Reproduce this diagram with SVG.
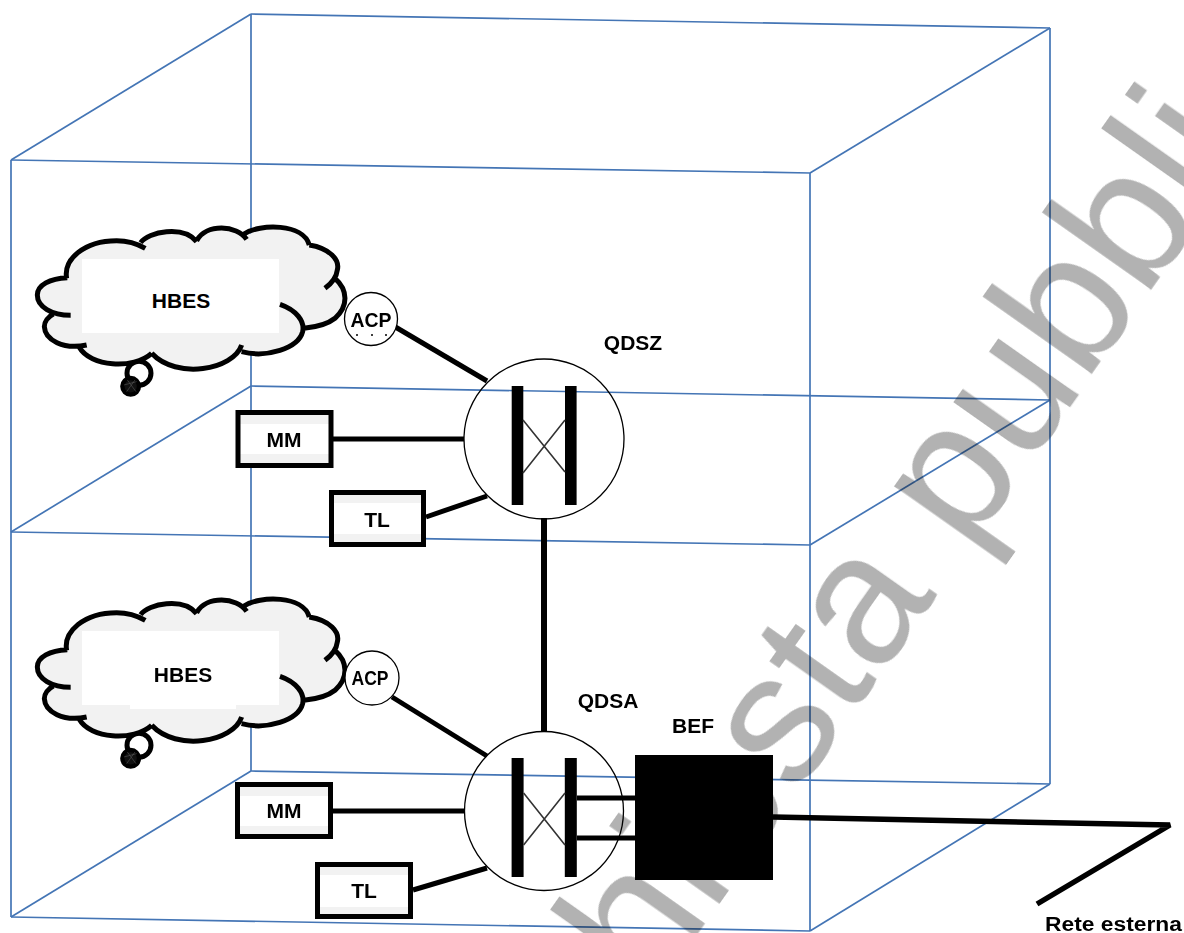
<svg xmlns="http://www.w3.org/2000/svg" width="1184" height="933" viewBox="0 0 1184 933">
<style>
text{font-family:"Liberation Sans",Arial,sans-serif;font-weight:700;fill:#000}
.c{text-anchor:middle}
.l{font-size:21px}
.cube line{stroke:#4475b5;stroke-width:1.7;fill:none}
.w{stroke:#000;stroke-width:5;fill:none}
.thin{stroke:#000;stroke-width:1.3;fill:none}
.x{stroke:#333;stroke-width:1.6;fill:none}
.band{fill:#f2f2f2}
.white{fill:#fff}
.box{fill:none;stroke:#000;stroke-width:5}
.wm{font-family:"Liberation Sans",Arial,sans-serif;font-weight:400;font-size:185px;fill:#b2b2b2;mix-blend-mode:multiply}
</style>
<defs>
<g id="cloud">
<circle cx="357" cy="490" r="36" fill="#fff" stroke="#000" stroke-width="15"/>
<circle cx="332" cy="529" r="25" fill="#111" stroke="#000" stroke-width="13"/>
<path d="M312,525 L350,515 M320,545 L345,510 M322,510 L348,545" stroke="#666" stroke-width="1.5" fill="none"/>
<path fill="#f2f2f2" d="M52,255 C52,225 90,205 142,203 C130,150 190,92 290,92 C320,92 350,100 370,105 C385,65 490,45 530,90 C560,40 650,45 680,80 C720,40 850,40 868,105 C930,115 960,150 945,205 C985,240 985,290 945,325 C920,345 885,352 848,365 C835,415 740,445 665,425 C640,480 470,510 395,430 C340,480 210,470 178,412 C130,420 75,390 73,350 C73,335 85,320 100,312 C75,300 52,290 52,255Z"/>
<path fill="none" stroke="#000" stroke-width="15" d="M152,316 C95,316 52,290 52,255 C52,225 90,205 142,203 M140,205 C130,150 190,92 290,92 C320,92 350,100 376,115 M362,98 C385,65 490,45 530,95 M530,92 C560,40 650,45 680,88 M672,72 C720,40 850,40 868,105 M868,105 C930,115 960,150 952,180 C950,200 935,220 915,235 M945,205 C985,240 985,290 945,325 C920,345 885,352 852,355 M780,283 C830,300 855,335 848,365 C835,415 740,445 665,425 M665,405 C640,480 470,510 395,430 M395,430 C340,480 210,470 178,412 M200,405 C130,420 75,390 73,350 C73,335 85,320 100,312"/>
</g>
</defs>

<g id="cube" class="cube">
<line x1="11" y1="160" x2="810" y2="173"/><line x1="251" y1="14" x2="1050" y2="28"/>
<line x1="11" y1="532" x2="810" y2="545"/><line x1="251" y1="386" x2="1050" y2="400"/>
<line x1="11" y1="917" x2="810" y2="931"/><line x1="251" y1="771" x2="1050" y2="784"/>
<line x1="11" y1="160" x2="11" y2="917"/><line x1="251" y1="14" x2="251" y2="771"/>
<line x1="810" y1="173" x2="810" y2="931"/><line x1="1050" y1="28" x2="1050" y2="784"/>
<line x1="11" y1="160" x2="251" y2="14"/><line x1="810" y1="173" x2="1050" y2="28"/>
<line x1="11" y1="532" x2="251" y2="386"/><line x1="810" y1="545" x2="1050" y2="400"/>
<line x1="11" y1="917" x2="251" y2="771"/><line x1="810" y1="931" x2="1050" y2="784"/>
</g>

<g id="connectors">
<line class="w" x1="392" y1="325" x2="487" y2="381"/>
<line class="w" x1="333" y1="439" x2="464" y2="439"/>
<line class="w" x1="426" y1="517" x2="487" y2="496"/>
<line class="w" style="stroke-width:6" x1="544" y1="518" x2="544" y2="732"/>
<line class="w" x1="392" y1="697" x2="487" y2="756"/>
<line class="w" x1="333" y1="811" x2="464" y2="811"/>
<line class="w" x1="413" y1="890" x2="487" y2="868"/>
<line class="w" x1="577" y1="798" x2="636" y2="798"/>
<line class="w" x1="577" y1="838" x2="636" y2="838"/>
<polyline class="w" style="stroke-width:5.5" stroke-linejoin="bevel" points="773,817 1170,825 1037,904"/>
</g>

<g id="hbes-1">
<use href="#cloud" transform="translate(20,210) scale(.3333)"/>
<rect class="white" x="82" y="259" width="197" height="74"/>
<text class="l c" x="181" y="308">HBES</text>
</g>
<g id="hbes-2">
<use href="#cloud" transform="translate(20,582) scale(.3333)"/>
<path class="white" d="M82,631H279V705H236V709H130V705H82Z"/>
<text class="l c" x="183" y="682">HBES</text>
</g>

<g id="acp-1">
<circle class="thin" cx="371" cy="319" r="26.5" style="fill:#fff"/>
<text class="c" x="371" y="327" font-size="21" textLength="41" lengthAdjust="spacingAndGlyphs">ACP</text>
<circle cx="357" cy="335" r="1"/><circle cx="372" cy="335" r="1"/><circle cx="386" cy="335" r="1"/>
</g>
<g id="acp-2">
<circle class="thin" cx="372" cy="678" r="27" style="fill:#fff"/>
<text class="c" x="370" y="685" font-size="21" textLength="37" lengthAdjust="spacingAndGlyphs">ACP</text>
</g>

<g id="qdsz">
<circle class="thin" cx="544" cy="439" r="80"/>
<rect x="511.7" y="386" width="11.6" height="119"/>
<rect x="565" y="386" width="11.6" height="119"/>
<path class="x" d="M523,420 L565,472 M565,420 L523,473"/>
<text class="l c" x="633" y="350">QDSZ</text>
</g>
<g id="qdsa">
<circle class="thin" cx="544" cy="811" r="79.5"/>
<rect x="511.6" y="758" width="12" height="119"/>
<rect x="564.8" y="758" width="12" height="119"/>
<path class="x" d="M523.6,793 L565,845 M565,793 L523.6,845"/>
<text class="l c" x="608" y="708">QDSA</text>
</g>
<g id="bef">
<rect x="635" y="755" width="138" height="125"/>
<text class="l c" x="693" y="733">BEF</text>
</g>

<g id="mm-1">
<rect class="band" x="238" y="413" width="93" height="52"/>
<rect class="white" x="240" y="424" width="90" height="30"/>
<rect class="box" x="238" y="412.5" width="93" height="53"/>
<text class="l c" x="284" y="447">MM</text>
</g>
<g id="tl-1">
<rect class="band" x="332" y="493" width="92" height="52"/>
<rect class="white" x="333" y="503" width="90" height="31"/>
<rect class="box" x="331.5" y="492.5" width="92" height="52"/>
<text class="l c" x="377" y="527">TL</text>
</g>
<g id="mm-2">
<rect class="band" x="238" y="785" width="93" height="52"/>
<rect class="white" x="240" y="796" width="90" height="30"/>
<rect class="box" x="237.5" y="784.5" width="93" height="52"/>
<text class="l c" x="284" y="818">MM</text>
</g>
<g id="tl-2">
<rect class="band" x="318" y="865" width="92" height="52"/>
<rect class="white" x="320" y="875" width="90" height="32"/>
<rect class="box" x="317.5" y="864.5" width="93" height="52"/>
<text class="l c" x="364" y="898">TL</text>
</g>
<text id="rete" x="1045" y="931" font-size="20" textLength="137" lengthAdjust="spacingAndGlyphs">Rete esterna</text>

<text id="watermark" class="wm" transform="translate(653,998) rotate(-54.8)">hiesta pubbli</text>
</svg>
